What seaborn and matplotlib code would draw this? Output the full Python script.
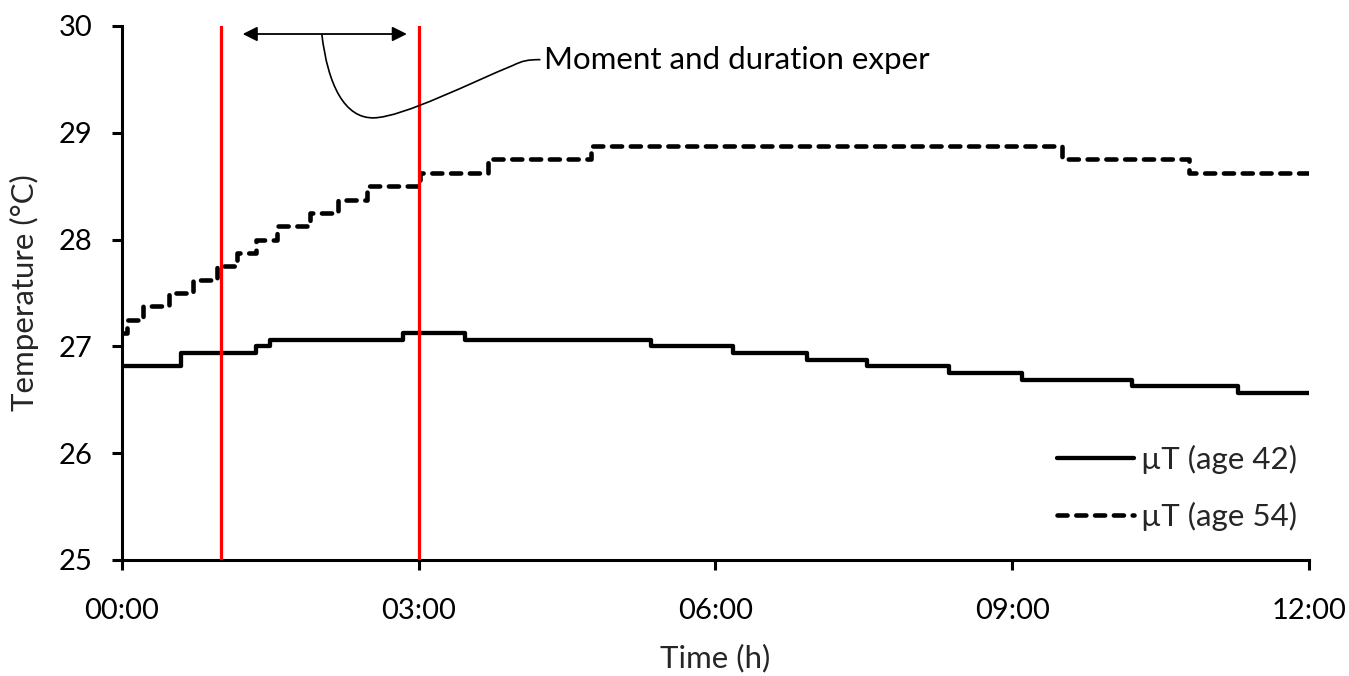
import matplotlib
matplotlib.use("Agg")
import matplotlib.pyplot as plt
import seaborn as sns
import pandas as pd
from matplotlib.path import Path
from matplotlib.patches import PathPatch

# ---- data (hours since 00:00, temperature in °C) ----
age42_time = [0, 0.6, 1.35, 1.5, 2.84, 3.47, 5.35, 6.18, 6.93, 7.53, 8.36, 9.1, 10.21, 11.28, 12]
age42_temp = [26.8125, 26.9375, 27.0, 27.0625, 27.125, 27.0625, 27.0, 26.9375, 26.875,
              26.8125, 26.75, 26.6875, 26.625, 26.5625, 26.5625]

age54_time = [0, 0.05, 0.21, 0.48, 0.72, 0.96, 1.16, 1.35, 1.57, 1.9, 2.18, 2.48, 3.01,
              3.7, 4.74, 9.5, 10.79, 12]
age54_temp = [27.125, 27.25, 27.375, 27.5, 27.625, 27.75, 27.875, 28.0, 28.125, 28.25,
              28.375, 28.5, 28.625, 28.75, 28.875, 28.75, 28.625, 28.625]

series_labels = ["\u00b5T (age 42)", "\u00b5T (age 54)"]
experiment_window = [1.0, 3.0]
x_ticks = [0, 3, 6, 9, 12]
x_tick_labels = ["00:00", "03:00", "06:00", "09:00", "12:00"]
y_ticks = [25, 26, 27, 28, 29, 30]
annotation_text = "Moment and duration exper"

df42 = pd.DataFrame({"time": age42_time, "temp": age42_temp})
df54 = pd.DataFrame({"time": age54_time, "temp": age54_temp})

sns.set_theme(style="white")
plt.rcParams["font.family"] = ["Lato", "DejaVu Sans"]
FS_TICK = 21
FS = 22.5

fig = plt.figure(figsize=(13.49, 6.76), dpi=100)
ax = fig.add_axes([122 / 1349, 1 - 560 / 676, (1309 - 122) / 1349, (560 - 26) / 676])

sns.lineplot(data=df42, x="time", y="temp", ax=ax, color="black", lw=3.1,
             drawstyle="steps-post", errorbar=None, label=series_labels[0])
sns.lineplot(data=df54, x="time", y="temp", ax=ax, color="black", lw=3.3,
             drawstyle="steps-post", errorbar=None, label=series_labels[1])
dline = ax.lines[-1]
dline.set_dashes([2.2, 1.9])
dline.set_dash_capstyle("round")

for xv in experiment_window:
    ax.axvline(xv, color="#ff0000", lw=2.3, zorder=5)

# double arrow marking the experiment duration
ax.annotate("", xy=(1.22, 29.925), xytext=(2.88, 29.925),
            arrowprops=dict(arrowstyle="<|-|>", color="black", lw=1.3,
                            mutation_scale=22, shrinkA=0, shrinkB=0))

# callout curve
verts = [(2.02, 29.925),
         (2.08, 29.45), (2.25, 29.13), (2.55, 29.14),
         (2.85, 29.15), (3.55, 29.48), (3.95, 29.63),
         (4.05, 29.675), (4.1, 29.685), (4.23, 29.685)]
codes = [Path.MOVETO] + [Path.CURVE4] * 9
ax.add_patch(PathPatch(Path(verts, codes), facecolor="none", edgecolor="black", lw=1.2, zorder=6))
ax.text(4.27, 29.685, annotation_text, ha="left", va="center", fontsize=FS, color="black")

ax.set_xlim(0, 12)
ax.set_ylim(25, 30)
ax.set_xticks(x_ticks)
ax.set_xticklabels(x_tick_labels)
ax.set_yticks(y_ticks)
ax.set_xlabel("Time (h)", fontsize=FS, labelpad=14)
ax.set_ylabel("Temperature (\u00b0C)", fontsize=FS, labelpad=14)
ax.tick_params(axis="both", which="major", direction="out", length=7.5, width=2.2,
               color="black", labelsize=FS_TICK, labelcolor="black",
               bottom=True, left=True)
ax.tick_params(axis="x", pad=20)
ax.tick_params(axis="y", pad=14)
for side in ["top", "right"]:
    ax.spines[side].set_visible(False)
for side in ["left", "bottom"]:
    ax.spines[side].set_color("black")
    ax.spines[side].set_linewidth(2.2)
ax.grid(False)

leg = ax.legend(loc="lower right", bbox_to_anchor=(1.014, 0.002), frameon=False,
                fontsize=FS, handlelength=2.45, handletextpad=0.25, labelspacing=0.9)

fig.savefig("out.png", dpi=100, facecolor="white")
